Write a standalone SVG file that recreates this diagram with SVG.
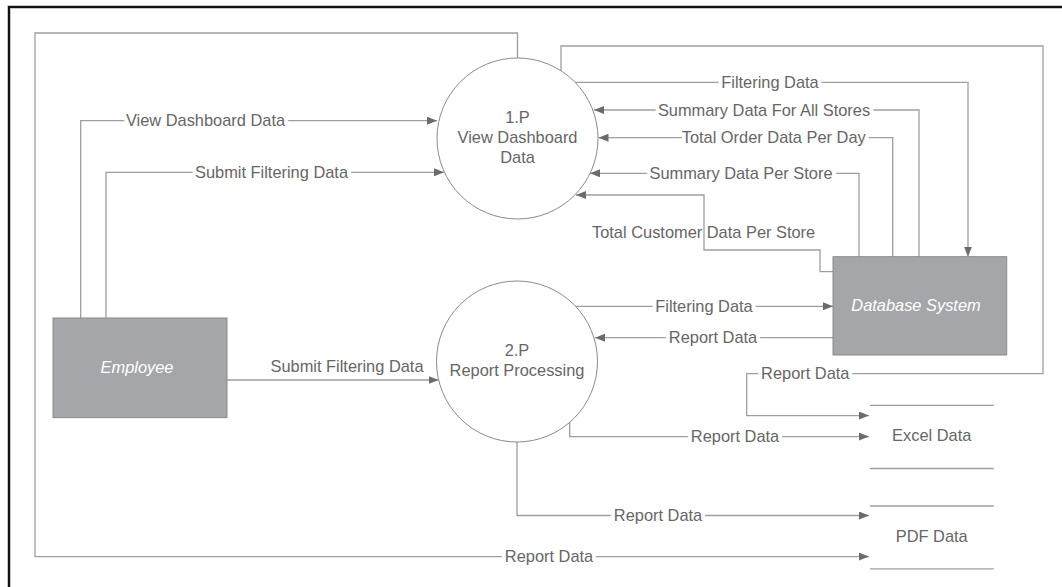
<svg xmlns="http://www.w3.org/2000/svg" width="1062" height="587" viewBox="0 0 1062 587">
<defs>
<marker id="ah" viewBox="0 0 10 8" refX="10" refY="4" markerWidth="10" markerHeight="8" markerUnits="userSpaceOnUse" orient="auto">
<path d="M0,0 L10,4 L0,8 Z" fill="#6b6b6b"/>
</marker>
</defs>
<style>
text{font-family:"Liberation Sans",Arial,sans-serif;font-size:16.4px;fill:#666666}
.lbl{text-anchor:middle;stroke:#ffffff;stroke-width:8px;stroke-linejoin:round;paint-order:stroke}
.plain{text-anchor:middle}
.ent{fill:#ffffff;font-style:italic;text-anchor:middle}
.conn{fill:none;stroke:#9e9e9e;stroke-width:1.3}
.conn path{marker-end:url(#ah)}
.proc{fill:#ffffff;stroke:#8a8a8a;stroke-width:1}
.box{fill:#a5a6a9;stroke:#8a8a8a;stroke-width:1}
.store{stroke:#9e9e9e;stroke-width:1.3}
</style>
<rect width="1062" height="587" fill="#ffffff"/>
<path d="M9,587 V7 H1062" fill="none" stroke="#c8c8c8" stroke-width="4"/>
<path d="M9,587 V7 H1062" fill="none" stroke="#111111" stroke-width="2"/>

<g id="connectors" class="conn">
<path d="M80.7,318 V120.7 H437"/>
<path d="M106,318 V172.3 H444"/>
<path d="M575,82.3 H968 V256.7"/>
<path d="M919,256.7 V110 H594"/>
<path d="M892.7,256.7 V137.7 H598.5"/>
<path d="M859,256.7 V173.3 H590"/>
<path d="M833,271.7 H820 V250 H704 V195 H576"/>
<path d="M576,306.3 H833"/>
<path d="M833,337.7 H595"/>
<path d="M227,380 H438.5"/>
<path d="M561,70.7 V46 H1043 V373.7 H746.7 V415.6 H869"/>
<path d="M569.7,422 V436.6 H869"/>
<path d="M517,442 V515.5 H869"/>
<path d="M517.5,58 V33 H35 V556.6 H869"/>
</g>

<g id="connector-labels">
<text class="lbl" x="205.5" y="126.4">View Dashboard Data</text>
<text class="lbl" x="271.5" y="178">Submit Filtering Data</text>
<text class="lbl" x="770" y="88">Filtering Data</text>
<text class="lbl" x="764" y="115.7">Summary Data For All Stores</text>
<text class="lbl" x="773.7" y="143.4">Total Order Data Per Day</text>
<text class="lbl" x="741" y="179">Summary Data Per Store</text>
<text x="592" y="237.7">Total Customer Data Per Store</text>
<text class="lbl" x="704" y="312">Filtering Data</text>
<text class="lbl" x="713" y="343.4">Report Data</text>
<text class="plain" x="347" y="371.6">Submit Filtering Data</text>
<text class="lbl" x="805.3" y="379.4">Report Data</text>
<text class="lbl" x="735" y="442.3">Report Data</text>
<text class="lbl" x="658" y="521.2">Report Data</text>
<text class="lbl" x="549" y="562.3">Report Data</text>
</g>

<g id="process-1">
<circle class="proc" cx="517.5" cy="138.5" r="80.5"/>
<text class="plain" x="517.5" y="122.6">1.P</text>
<text class="plain" x="517.5" y="142.6">View Dashboard</text>
<text class="plain" x="517.5" y="162.6">Data</text>
</g>

<g id="process-2">
<circle class="proc" cx="517" cy="361.5" r="80.5"/>
<text class="plain" x="517" y="355.9">2.P</text>
<text class="plain" x="517" y="375.9">Report Processing</text>
</g>

<g id="employee">
<rect class="box" x="53" y="318" width="174" height="99.6"/>
<text class="ent" x="137" y="372.9">Employee</text>
</g>

<g id="database-system">
<rect class="box" x="833" y="256.7" width="173.7" height="98.3"/>
<text class="ent" x="916" y="310.9">Database System</text>
</g>

<g id="excel-data">
<line class="store" x1="870" y1="405.4" x2="993.7" y2="405.4"/>
<line class="store" x1="870" y1="468.5" x2="993.7" y2="468.5"/>
<text class="plain" x="931.7" y="440.5">Excel Data</text>
</g>

<g id="pdf-data">
<line class="store" x1="870" y1="506" x2="993.7" y2="506"/>
<line class="store" x1="870" y1="568.8" x2="993.7" y2="568.8"/>
<text class="plain" x="931.7" y="541.5">PDF Data</text>
</g>
</svg>
